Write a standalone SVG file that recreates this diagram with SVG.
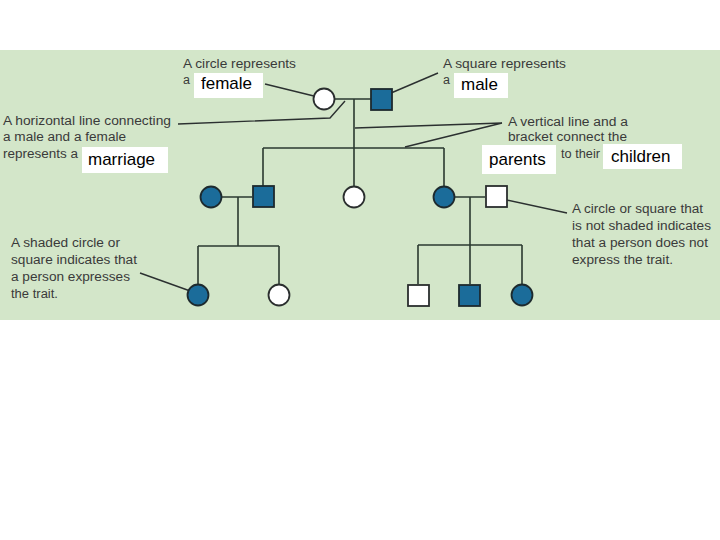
<svg xmlns="http://www.w3.org/2000/svg" width="720" height="540" viewBox="0 0 720 540">
<style>
.ann{font-family:"Liberation Sans",Arial,sans-serif;font-size:12.5px;fill:#3a3a3a}
.lab{font-family:"Liberation Sans",Arial,sans-serif;font-size:17px;fill:#000}
.box{fill:#fff}
.ln{fill:none;stroke:#2b3a30;stroke-width:1.6}
.ptr{fill:none;stroke:#2b3030;stroke-width:1.4}
.f{fill:#1b6c9a;stroke:#1d2a2e;stroke-width:1.8}
.w{fill:#fff;stroke:#2a2e2e;stroke-width:1.8}
</style>
<rect x="0" y="0" width="720" height="540" fill="#fff"/>
<rect x="0" y="50" width="720" height="270" fill="#d3e6c9"/>
<g id="connectors">
<path class="ln" d="M335 99H371M354 99V148M263 148H444M263 148V186M354 148V186M444 148V186"/>
<path class="ln" d="M222 197H252M238 197V246M198 246H279M198 246V284M279 246V284"/>
<path class="ln" d="M455 197H485M470 197V245M418 245H522M418 245V284M470 245V284M522 245V284"/>
<path class="ptr" d="M265 84L322 98"/>
<path class="ptr" d="M438 73L384 96"/>
<path class="ptr" d="M178 124L330 118L345 101"/>
<path class="ptr" d="M502 123L355 128M502 123L405 147"/>
<path class="ptr" d="M140 273L193 292"/>
<path class="ptr" d="M567 213L502 199"/>
</g>
<g id="p1"><circle class="w" cx="324" cy="99" r="10.5"/></g>
<g id="p2"><rect class="f" x="371" y="89" width="21" height="21"/></g>
<g id="p3"><circle class="f" cx="211" cy="197" r="10.5"/></g>
<g id="p4"><rect class="f" x="253" y="186" width="21" height="21"/></g>
<g id="p5"><circle class="w" cx="354" cy="197" r="10.5"/></g>
<g id="p6"><circle class="f" cx="444" cy="197" r="10.5"/></g>
<g id="p7"><rect class="w" x="486" y="186" width="21" height="21"/></g>
<g id="p8"><circle class="f" cx="198" cy="295" r="10.5"/></g>
<g id="p9"><circle class="w" cx="279" cy="295" r="10.5"/></g>
<g id="p10"><rect class="w" x="408" y="285" width="21" height="21"/></g>
<g id="p11"><rect class="f" x="459" y="285" width="21" height="21"/></g>
<g id="p12"><circle class="f" cx="522" cy="295" r="10.5"/></g>
<g id="ann-female">
<text class="ann" x="183" y="68" textLength="113" lengthAdjust="spacingAndGlyphs">A circle represents</text>
<text class="ann" x="183" y="84">a</text>
<rect class="box" x="194" y="73" width="69" height="25"/>
<text class="lab" x="201" y="89">female</text>
</g>
<g id="ann-male">
<text class="ann" x="443" y="68" textLength="123" lengthAdjust="spacingAndGlyphs">A square represents</text>
<text class="ann" x="443" y="84">a</text>
<rect class="box" x="454" y="73" width="54" height="25"/>
<text class="lab" x="461" y="90">male</text>
</g>
<g id="ann-marriage">
<text class="ann" x="3" y="125" textLength="168" lengthAdjust="spacingAndGlyphs">A horizontal line connecting</text>
<text class="ann" x="3" y="141" textLength="123" lengthAdjust="spacingAndGlyphs">a male and a female</text>
<text class="ann" x="3" y="158" textLength="75" lengthAdjust="spacingAndGlyphs">represents a</text>
<rect class="box" x="82" y="147" width="86" height="26"/>
<text class="lab" x="88" y="165">marriage</text>
</g>
<g id="ann-bracket">
<text class="ann" x="508" y="126" textLength="120" lengthAdjust="spacingAndGlyphs">A vertical line and a</text>
<text class="ann" x="508" y="141" textLength="119" lengthAdjust="spacingAndGlyphs">bracket connect the</text>
<text class="ann" x="561" y="158" textLength="39" lengthAdjust="spacingAndGlyphs">to their</text>
<rect class="box" x="482" y="145" width="74" height="29"/>
<text class="lab" x="489" y="165">parents</text>
<rect class="box" x="603" y="144" width="79" height="25"/>
<text class="lab" x="611" y="162">children</text>
</g>
<g id="ann-shaded">
<text class="ann" x="11" y="247" textLength="109" lengthAdjust="spacingAndGlyphs">A shaded circle or</text>
<text class="ann" x="11" y="264" textLength="126" lengthAdjust="spacingAndGlyphs">square indicates that</text>
<text class="ann" x="11" y="281" textLength="119" lengthAdjust="spacingAndGlyphs">a person expresses</text>
<text class="ann" x="11" y="298" textLength="47" lengthAdjust="spacingAndGlyphs">the trait.</text>
</g>
<g id="ann-unshaded">
<text class="ann" x="572" y="213" textLength="131" lengthAdjust="spacingAndGlyphs">A circle or square that</text>
<text class="ann" x="572" y="230" textLength="139" lengthAdjust="spacingAndGlyphs">is not shaded indicates</text>
<text class="ann" x="572" y="247" textLength="136" lengthAdjust="spacingAndGlyphs">that a person does not</text>
<text class="ann" x="572" y="264" textLength="101" lengthAdjust="spacingAndGlyphs">express the trait.</text>
</g>
</svg>
